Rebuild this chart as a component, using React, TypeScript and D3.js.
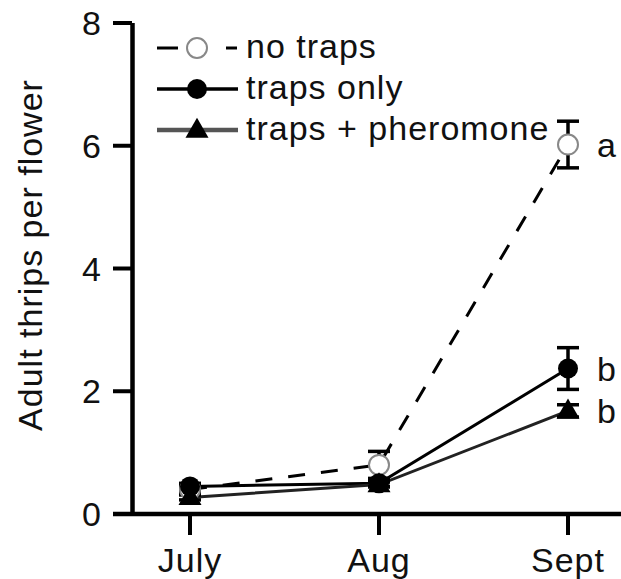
import React from "react";
import * as d3 from "d3";

const months = ["July", "Aug", "Sept"];
const noTraps = [0.4, 0.8, 6.02];
const noTrapsSE = [0.05, 0.22, 0.38];
const trapsOnly = [0.45, 0.5, 2.37];
const trapsOnlySE = [0.05, 0.05, 0.34];
const trapsPher = [0.27, 0.48, 1.68];
const trapsPherSE = [0.04, 0.04, 0.1];
const yTicks = [0, 2, 4, 6, 8];
const letters = ["a", "b", "b"];
const legendLabels = ["no traps", "traps only", "traps + pheromone"];

const W = 621;
const H = 579;
const FONT = "'Liberation Sans', Arial, sans-serif";

export default function App() {
  const x = d3.scalePoint<string>().domain(months).range([190, 568]);
  const y = d3.scaleLinear().domain([0, 8]).range([514, 23]);
  const line = d3
    .line<number>()
    .x((_, i) => x(months[i]) as number)
    .y((d) => y(d));

  const tri = d3.symbol().type(d3.symbolTriangle).size(230)();

  const series = [
    { vals: noTraps, se: noTrapsSE, dash: "17,16", color: "#000", marker: "open" },
    { vals: trapsOnly, se: trapsOnlySE, dash: null, color: "#000", marker: "circle" },
    { vals: trapsPher, se: trapsPherSE, dash: null, color: "#222", marker: "tri" },
  ];

  const marker = (type: string, cx: number, cy: number, key: string) => {
    if (type === "open")
      return <circle key={key} cx={cx} cy={cy} r={10} fill="#fff" stroke="#888" strokeWidth={2} />;
    if (type === "circle") return <circle key={key} cx={cx} cy={cy} r={10} fill="#000" />;
    return <path key={key} d={tri as string} transform={`translate(${cx},${cy + 1})`} fill="#000" />;
  };

  const textStyle = { fontFamily: FONT, fontSize: 34, fill: "#111", letterSpacing: 1 } as const;

  return (
    <svg width={W} height={H} style={{ position: "absolute", left: 0, top: 0, background: "#fff" }}>
      <rect width={W} height={H} fill="#fff" />
      {/* axes */}
      <line x1={132.5} x2={132.5} y1={y(8)} y2={y(0) + 2} stroke="#000" strokeWidth={4.5} />
      <line x1={113} x2={W} y1={y(0)} y2={y(0)} stroke="#000" strokeWidth={4.5} />
      {yTicks.map((t) => (
        <g key={t}>
          <line x1={113} x2={132} y1={y(t)} y2={y(t)} stroke="#000" strokeWidth={4} />
          <text x={102} y={y(t)} dy="0.36em" textAnchor="end" style={textStyle}>
            {t}
          </text>
        </g>
      ))}
      {months.map((m) => (
        <g key={m}>
          <line x1={x(m)} x2={x(m)} y1={y(0)} y2={y(0) + 21} stroke="#000" strokeWidth={4} />
          <text x={x(m)} y={572} textAnchor="middle" style={textStyle}>
            {m}
          </text>
        </g>
      ))}
      <text
        transform={`translate(42,255) rotate(-90)`}
        textAnchor="middle"
        style={textStyle}
      >
        Adult thrips per flower
      </text>

      {/* lines */}
      {series.map((s, i) => (
        <path
          key={"l" + i}
          d={line(s.vals) as string}
          fill="none"
          stroke={s.color}
          strokeWidth={3}
          strokeDasharray={s.dash ?? undefined}
        />
      ))}
      {/* error bars */}
      {series.map((s, i) =>
        s.vals.map((v, j) => {
          const cx = x(months[j]) as number;
          return (
            <g key={`e${i}-${j}`} stroke="#000" strokeWidth={3.5}>
              <line x1={cx} x2={cx} y1={y(v - s.se[j])} y2={y(v + s.se[j])} />
              <line x1={cx - 11} x2={cx + 11} y1={y(v + s.se[j])} y2={y(v + s.se[j])} />
              <line x1={cx - 11} x2={cx + 11} y1={y(v - s.se[j])} y2={y(v - s.se[j])} />
            </g>
          );
        })
      )}
      {/* markers */}
      {series.map((s, i) =>
        s.vals.map((v, j) => marker(s.marker, x(months[j]) as number, y(v), `m${i}-${j}`))
      )}
      {/* significance letters */}
      {series.map((s, i) => (
        <text key={"s" + i} x={597} y={y(s.vals[2])} dy="0.36em" style={textStyle}>
          {letters[i]}
        </text>
      ))}

      {/* legend */}
      {legendLabels.map((lab, i) => {
        const ly = 48 + i * 41;
        const s = series[i];
        return (
          <g key={"lg" + i}>
            {i === 0 ? (
              <g stroke="#000" strokeWidth={3}>
                <line x1={157} x2={178} y1={ly} y2={ly} />
                <line x1={226} x2={237} y1={ly} y2={ly} />
              </g>
            ) : (
              <line x1={157} x2={238} y1={ly} y2={ly} stroke={i === 2 ? "#555" : "#000"} strokeWidth={i === 2 ? 4.5 : 3.5} />
            )}
            {marker(s.marker, 197, ly, "lm" + i)}
            <text x={246} y={ly + 10} style={textStyle}>
              {lab}
            </text>
          </g>
        );
      })}
    </svg>
  );
}
